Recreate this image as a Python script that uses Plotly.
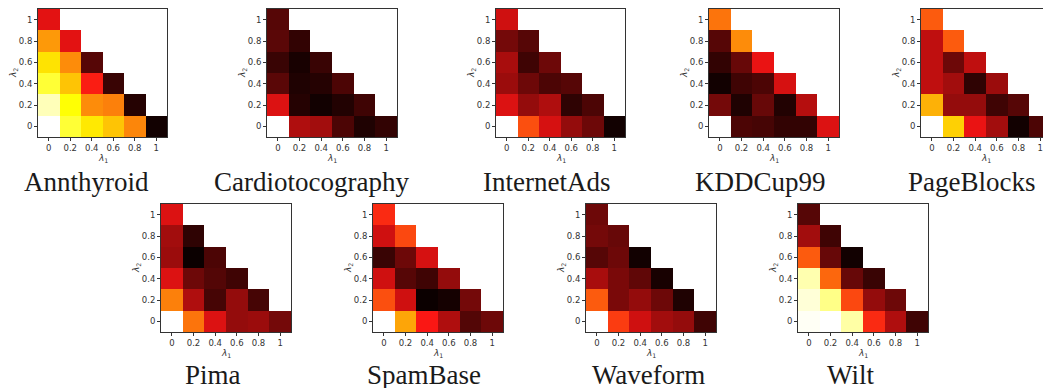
import plotly.graph_objects as go

# Grid of weights: lambda_1 on x, lambda_2 on y (only lambda_1 + lambda_2 <= 1)
lambda_vals = [0, 0.2, 0.4, 0.6, 0.8, 1]
tick_text = ["0", "0.2", "0.4", "0.6", "0.8", "1"]

datasets = ["Annthyroid", "Cardiotocography", "InternetAds", "KDDCup99", "PageBlocks",
            "Pima", "SpamBase", "Waveform", "Wilt"]

# Normalised scores, one row per lambda_2 (bottom row = 0), columns by lambda_1
annthyroid = [
    [0.00, 0.20, 0.29, 0.35, 0.45, 0.99],
    [0.07, 0.25, 0.44, 0.46, 0.96],
    [0.20, 0.35, 0.62, 0.93],
    [0.30, 0.44, 0.885],
    [0.42, 0.67],
    [0.67],
]
cardiotocography = [
    [0.00, 0.75, 0.77, 0.90, 0.97, 0.94],
    [0.68, 0.96, 0.99, 0.965, 0.92],
    [0.88, 0.97, 0.96, 0.90],
    [0.93, 0.98, 0.93],
    [0.88, 0.94],
    [0.885],
]
internetads = [
    [0.00, 0.54, 0.69, 0.79, 0.85, 0.99],
    [0.68, 0.79, 0.75, 0.945, 0.90],
    [0.78, 0.85, 0.90, 0.885],
    [0.76, 0.92, 0.85],
    [0.84, 0.885],
    [0.70],
]
kddcup99 = [
    [0.00, 0.90, 0.91, 0.94, 0.94, 0.68],
    [0.84, 0.97, 0.86, 0.965, 0.74],
    [0.99, 0.92, 0.90, 0.69],
    [0.94, 0.86, 0.66],
    [0.885, 0.44],
    [0.48],
]
pageblocks = [
    [0.00, 0.33, 0.66, 0.77, 0.99, 0.90],
    [0.38, 0.79, 0.79, 0.92, 0.885],
    [0.725, 0.77, 0.945, 0.78],
    [0.725, 0.85, 0.725],
    [0.725, 0.52],
    [0.52],
]
pima = [
    [0.00, 0.48, 0.68, 0.79, 0.78, 0.84],
    [0.46, 0.75, 0.91, 0.79, 0.91],
    [0.68, 0.85, 0.89, 0.92],
    [0.78, 1.00, 0.90],
    [0.77, 0.945],
    [0.68],
]
spambase = [
    [0.00, 0.40, 0.63, 0.75, 0.89, 0.85],
    [0.54, 0.70, 1.00, 0.985, 0.84],
    [0.70, 0.885, 0.92, 0.79],
    [0.93, 0.85, 0.69],
    [0.70, 0.55],
    [0.60],
]
waveform = [
    [0.00, 0.57, 0.70, 0.77, 0.79, 0.92],
    [0.52, 0.83, 0.79, 0.85, 0.97],
    [0.76, 0.83, 0.87, 0.98],
    [0.885, 0.85, 0.99],
    [0.84, 0.86],
    [0.85],
]
wilt = [
    [0.01, 0.00, 0.09, 0.60, 0.75, 0.92],
    [0.04, 0.12, 0.55, 0.79, 0.85],
    [0.08, 0.50, 0.86, 0.93],
    [0.52, 0.86, 0.99],
    [0.77, 0.92],
    [0.885],
]

scores = [annthyroid, cardiotocography, internetads, kddcup99, pageblocks,
          pima, spambase, waveform, wilt]

# matplotlib "hot" reversed: white -> yellow -> red -> black
hot_r = [
    [0.0, "rgb(255,255,255)"],
    [0.253968, "rgb(255,255,0)"],
    [0.634921, "rgb(250,20,20)"],
    [1.0, "rgb(11,0,0)"],
]

W, H = 1043, 388
# panel boxes in pixels: (left, right, top, bottom)
boxes = [
    (38, 167, 9, 137), (267, 397, 9, 137), (496, 625, 9, 137),
    (709, 839, 9, 137), (921, 1043, 9, 137),
    (161, 291, 204, 332), (373, 503, 204, 332), (586, 716, 204, 332),
    (798, 928, 204, 332),
]
# caption centres in pixels (x, y)
captions = [
    (86, 182), (311, 182), (546, 182), (760, 182), (972, 182),
    (213, 375), (424, 375), (648, 375), (850, 375),
]

AX = "#333333"
tick_font = dict(family="DejaVu Sans", size=8.5, color=AX)
caption_font = dict(family="Times New Roman, Liberation Serif, DejaVu Serif, serif",
                    size=27, color="#1a1a1a")

fig = go.Figure()
layout = dict(
    width=W, height=H,
    margin=dict(l=0, r=0, t=0, b=0),
    paper_bgcolor="white", plot_bgcolor="white",
    showlegend=False,
)
annotations = []

def pad(rows):
    return [r + [None] * (6 - len(r)) for r in rows]

for k, (name, z) in enumerate(zip(datasets, scores)):
    n = "" if k == 0 else str(k + 1)
    left, right, top, bottom = boxes[k]
    fig.add_trace(go.Heatmap(
        x=lambda_vals, y=lambda_vals, z=pad(z),
        colorscale=hot_r, zmin=0, zmax=1, showscale=False,
        xaxis="x" + n, yaxis="y" + n, hoverongaps=False,
    ))
    clipped = name == "PageBlocks"
    x_hi = -0.1 + 1.2 * (right - left) / 130.0 if clipped else 1.1
    layout["xaxis" + n] = dict(
        domain=[left / W, right / W], anchor="y" + n,
        range=[-0.1, x_hi], tickvals=lambda_vals, ticktext=tick_text,
        showline=True, linecolor=AX, linewidth=1, mirror=True,
        ticks="outside", ticklen=3, tickwidth=1, tickcolor=AX,
        tickfont=tick_font, showgrid=False, zeroline=False, fixedrange=True,
    )
    layout["yaxis" + n] = dict(
        domain=[1 - bottom / H, 1 - top / H], anchor="x" + n,
        range=[-0.1, 1.1], tickvals=lambda_vals, ticktext=tick_text,
        showline=True, linecolor=AX, linewidth=1, mirror=not clipped,
        ticks="outside", ticklen=3, tickwidth=1, tickcolor=AX,
        tickfont=tick_font, showgrid=False, zeroline=False, fixedrange=True,
    )
    xd = "x" + n + " domain"
    yd = "y" + n + " domain"
    annotations.append(dict(
        text="<i>λ</i><sub>1</sub>", xref=xd, yref=yd,
        x=0.5 if not clipped else 0.5 * 130 / (right - left),
        y=0, yshift=-21, xanchor="center", yanchor="middle", showarrow=False,
        font=dict(family="DejaVu Sans", size=9, color=AX),
    ))
    annotations.append(dict(
        text="<i>λ</i><sub>2</sub>", xref=xd, yref=yd, x=0, y=0.5, xshift=-25,
        xanchor="center", yanchor="middle", textangle=-90, showarrow=False,
        font=dict(family="DejaVu Sans", size=9, color=AX),
    ))
    cx, cy = captions[k]
    annotations.append(dict(
        text=name, xref="paper", yref="paper", x=cx / W, y=1 - cy / H,
        xanchor="center", yanchor="middle", showarrow=False,
        font=caption_font,
    ))

layout["annotations"] = annotations
fig.update_layout(**layout)
fig.write_html("out.html")
